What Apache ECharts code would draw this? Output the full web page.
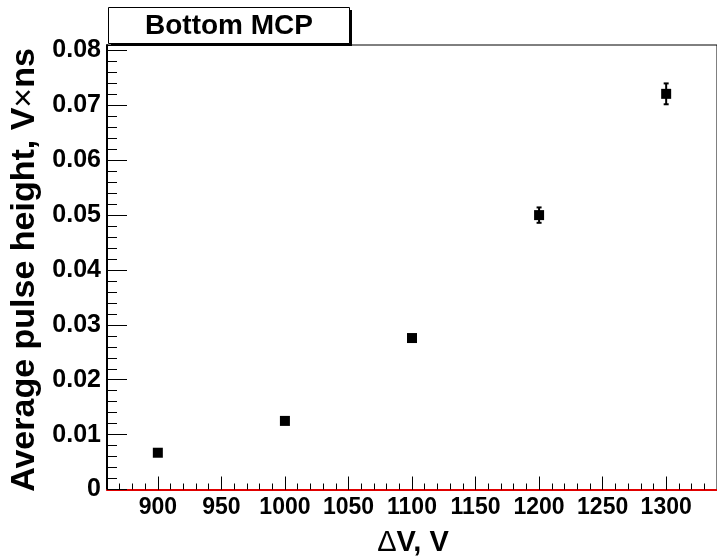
<!DOCTYPE html>
<html>
<head>
<meta charset="utf-8">
<script src="https://cdn.jsdelivr.net/npm/echarts@6/dist/echarts.min.js"></script>
<style>html,body{margin:0;padding:0;background:#fff}#c{width:717px;height:560px}</style>
</head>
<body>
<div id="c"></div>
<script>
const voltages = [900, 1000, 1100, 1200, 1300];
const pulseHeights = [0.0067, 0.0125, 0.0276, 0.0500, 0.0721];
const pulseErrors = [0.0003, 0.0004, 0.0005, 0.0014, 0.0019];
const xTickValues = [900, 950, 1000, 1050, 1100, 1150, 1200, 1250, 1300];
const yTickValues = [0, 0.01, 0.02, 0.03, 0.04, 0.05, 0.06, 0.07, 0.08];
const chartTitle = 'Bottom MCP';
const xTitleParts = ['Δ', 'V, V'];
const yTitleParts = ['Average pulse height, V', '×', 'ns'];

const FONT = '"Liberation Sans", Arial, Helvetica, sans-serif';
const chart = echarts.init(document.getElementById('c'), null, {renderer: 'canvas'});

const points = voltages.map((v, i) => [v, pulseHeights[i]]);
const errData = voltages.map((v, i) => [v, pulseHeights[i], pulseErrors[i]]);

chart.setOption({
  animation: false,
  backgroundColor: '#fff',
  grid: {left: 107, top: 45, width: 614, height: 444.5, show: true, borderColor: '#000', borderWidth: 1, backgroundColor: 'transparent'},
  xAxis: [
    {
      type: 'value', min: 860, max: 1340, interval: 10, position: 'bottom',
      axisLine: {show: true, onZero: false, lineStyle: {color: '#e00000', width: 2}},
      axisTick: {show: true, inside: true, length: 6, lineStyle: {color: '#000', width: 1}},
      axisLabel: {show: true, customValues: xTickValues, margin: 7, color: '#000', fontFamily: FONT, fontWeight: 'bold', fontSize: 23,
        formatter: v => String(v)},
      splitLine: {show: false}
    },
    {
      type: 'value', min: 860, max: 1340, position: 'bottom',
      axisLine: {show: false, onZero: false},
      axisTick: {show: true, inside: true, length: 13, customValues: xTickValues, lineStyle: {color: '#000', width: 1}},
      axisLabel: {show: false},
      splitLine: {show: false}
    }
  ],
  yAxis: [
    {
      type: 'value', min: 0, max: 0.081, interval: 0.002, position: 'left',
      axisLine: {show: true, onZero: false, lineStyle: {color: '#000', width: 2}},
      axisTick: {show: true, inside: true, length: 10, lineStyle: {color: '#000', width: 1}},
      axisLabel: {show: true, customValues: yTickValues, margin: 6, color: '#000', fontFamily: FONT, fontWeight: 'bold', fontSize: 25,
        formatter: v => v === 0 ? '0' : v.toFixed(2)},
      splitLine: {show: false}
    },
    {
      type: 'value', min: 0, max: 0.081, position: 'left',
      axisLine: {show: false, onZero: false},
      axisTick: {show: true, inside: true, length: 20, customValues: yTickValues, lineStyle: {color: '#000', width: 1}},
      axisLabel: {show: false},
      splitLine: {show: false}
    }
  ],
  series: [
    {
      type: 'custom', xAxisIndex: 0, yAxisIndex: 0, data: errData, z: 3,
      renderItem: function (params, api) {
        const x = api.value(0), y = api.value(1), e = api.value(2);
        const t = api.coord([x, y + e]);
        const b = api.coord([x, y - e]);
        const st = {stroke: '#000', lineWidth: 2};
        const cap = 2.5;
        return {type: 'group', children: [
          {type: 'line', shape: {x1: t[0], y1: t[1], x2: b[0], y2: b[1]}, style: st},
          {type: 'line', shape: {x1: t[0] - cap, y1: t[1], x2: t[0] + cap, y2: t[1]}, style: st},
          {type: 'line', shape: {x1: b[0] - cap, y1: b[1], x2: b[0] + cap, y2: b[1]}, style: st}
        ]};
      }
    },
    {
      type: 'scatter', xAxisIndex: 0, yAxisIndex: 0, data: points, symbol: 'rect', symbolSize: 10, z: 4,
      itemStyle: {color: '#000', opacity: 1}
    }
  ],
  graphic: [
    {type: 'rect', shape: {x: 111, y: 10, width: 241, height: 36}, style: {fill: '#000'}, z: 10},
    {type: 'rect', shape: {x: 108.5, y: 7.5, width: 241, height: 36}, style: {fill: '#fff', stroke: '#000', lineWidth: 1}, z: 11},
    {type: 'text', x: 229, y: 26, z: 12, style: {text: chartTitle, fill: '#000', font: 'bold 28px ' + FONT, textAlign: 'center', textVerticalAlign: 'middle'}},
    {type: 'text', x: 25, y: 270, rotation: Math.PI / 2, z: 12, style: {
      text: '{b|' + yTitleParts[0] + '}{n|' + yTitleParts[1] + '}{b|' + yTitleParts[2] + '}',
      textAlign: 'center', textVerticalAlign: 'middle',
      rich: {b: {fill: '#000', font: 'bold 34px ' + FONT}, n: {fill: '#000', font: 'normal 34px ' + FONT}}}},
    {type: 'text', x: 413, y: 543, z: 12, style: {text: '{d|' + xTitleParts[0] + '}{b|' + xTitleParts[1] + '}', textAlign: 'center', textVerticalAlign: 'middle',
      rich: {d: {fill: '#000', font: 'normal 29px ' + FONT}, b: {fill: '#000', font: 'bold 29px ' + FONT}}}}
  ]
});
</script>
</body>
</html>
